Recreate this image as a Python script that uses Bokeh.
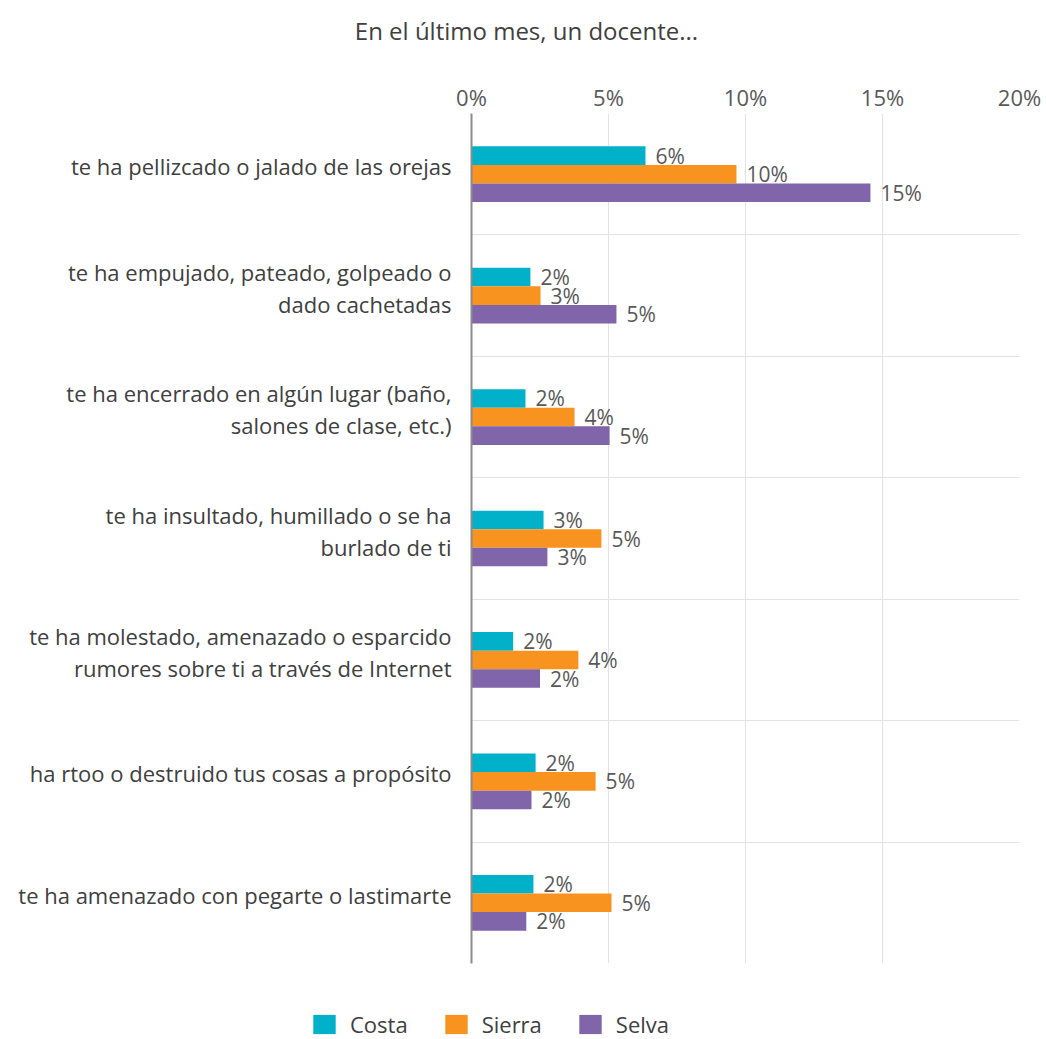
from bokeh.plotting import figure
from bokeh.layouts import column
from bokeh.models import (ColumnDataSource, Range1d, FixedTicker, Legend, LegendItem,
                          CustomJSTickFormatter, Label)
from bokeh.transform import dodge
from bokeh.core.properties import value
from bokeh.embed import file_html
from bokeh.resources import INLINE

title = "En el último mes, un docente..."
categories = [
    "te ha pellizcado o jalado de las orejas",
    "te ha empujado, pateado, golpeado o\ndado cachetadas",
    "te ha encerrado en algún lugar (baño,\nsalones de clase, etc.)",
    "te ha insultado, humillado o se ha\nburlado de ti",
    "te ha molestado, amenazado o esparcido\nrumores sobre ti a través de Internet",
    "ha rtoo o destruido tus cosas a propósito",
    "te ha amenazado con pegarte o lastimarte",
]
series_names = ["Costa", "Sierra", "Selva"]
costa = [6.35, 2.15, 1.97, 2.63, 1.52, 2.34, 2.26]
sierra = [9.67, 2.52, 3.76, 4.74, 3.90, 4.53, 5.11]
selva = [14.56, 5.29, 5.04, 2.77, 2.50, 2.19, 2.00]
x_ticks = [0, 5, 10, 15, 20]

colors = ["#00B1C9", "#F7931E", "#8165AA"]
FONT = "Open Sans"


def strip(height):
    f = figure(width=1046, height=height, output_backend="svg", toolbar_location=None,
               x_axis_type=None, y_axis_type=None, min_border=0,
               x_range=Range1d(-3, -2), y_range=Range1d(-3, -2))
    if "frame_align" in f.properties():
        f.frame_align = False
    f.outline_line_color = None
    f.grid.visible = False
    f.background_fill_color = "white"
    f.border_fill_color = "white"
    return f


# ---- title strip
p0 = strip(60)
p0.add_layout(Label(x=526, y=30, x_units="screen", y_units="screen", text=title,
                    text_align="center", text_baseline="middle", text_font=FONT,
                    text_font_size="24px", text_color="#404040"))

ypos = [i + 0.5 for i in range(len(categories))]
src = ColumnDataSource(dict(
    y=ypos,
    costa=costa, sierra=sierra, selva=selva,
    costa_lbl=[f"{round(v)}%" for v in costa],
    sierra_lbl=[f"{round(v)}%" for v in sierra],
    selva_lbl=[f"{round(v)}%" for v in selva],
))

# ---- main chart
p = figure(width=1046, height=940, output_backend="svg", toolbar_location=None,
           x_range=Range1d(0, 20), y_range=Range1d(len(categories), 0),
           x_axis_location="above", min_border_left=471, min_border_right=27,
           min_border_top=53, min_border_bottom=37)
if "frame_align" in p.properties():
    p.frame_align = False
p.outline_line_color = None
p.background_fill_color = "white"
p.border_fill_color = "white"

xa = p.xaxis[0]
xa.ticker = FixedTicker(ticks=x_ticks)
xa.formatter = CustomJSTickFormatter(code="return tick + '%';")
xa.axis_line_color = None
xa.major_tick_line_color = None
xa.minor_tick_line_color = None
xa.major_tick_out = 0
xa.major_label_text_font = FONT
xa.major_label_text_font_size = "22px"
xa.major_label_text_color = "#595959"
xa.major_label_standoff = 2

# category labels sit slightly above the category centre
label_pos = [round(y - 0.065, 3) for y in ypos]
ya = p.yaxis[0]
ya.ticker = FixedTicker(ticks=label_pos)
ya.major_label_overrides = {y: c for y, c in zip(label_pos, categories)}
ya.axis_line_color = "#8c8c8c"
ya.axis_line_width = 2
ya.major_tick_line_color = None
ya.minor_tick_line_color = None
ya.major_label_text_font = FONT
ya.major_label_text_font_size = "22px"
ya.major_label_text_color = "#404040"
ya.major_label_standoff = 14
ya.major_label_text_line_height = 1.07

p.xgrid.ticker = FixedTicker(ticks=x_ticks)
p.xgrid.grid_line_color = "#e3e3e3"
p.ygrid.ticker = FixedTicker(ticks=list(range(len(categories) + 1)))
p.ygrid.grid_line_color = "#e3e3e3"

bh = 0.153
offsets = [-bh, 0.0, bh]
fields = ["costa", "sierra", "selva"]
for f, off, c in zip(fields, offsets, colors):
    p.hbar(y=dodge("y", off, range=p.y_range), left=0, right=f, height=bh,
           source=src, fill_color=c, line_color=None)
    p.text(x=f, y=dodge("y", off, range=p.y_range), text=f + "_lbl", source=src,
           x_offset=10, text_baseline="middle", text_align="left",
           text_font=value(FONT), text_font_size="21px", text_color="#595959")

# ---- legend strip (its own bars lie outside its view; only swatches show)
p2 = strip(39)
leg_renderers = [p2.hbar(y="y", left=0, right=f, height=bh, source=src,
                         fill_color=c, line_color=None) for f, c in zip(fields, colors)]
legend = Legend(items=[LegendItem(label=n, renderers=[r]) for n, r in zip(series_names, leg_renderers)],
                location=(310, 0), orientation="horizontal",
                glyph_width=28, glyph_height=24, label_standoff=12, spacing=34,
                padding=0, margin=0, border_line_color=None, background_fill_alpha=0,
                label_text_font=FONT, label_text_font_size="22px", label_text_color="#404040")
p2.add_layout(legend)

open("out.html", "w").write(file_html(column(p0, p, p2, spacing=0), INLINE))
